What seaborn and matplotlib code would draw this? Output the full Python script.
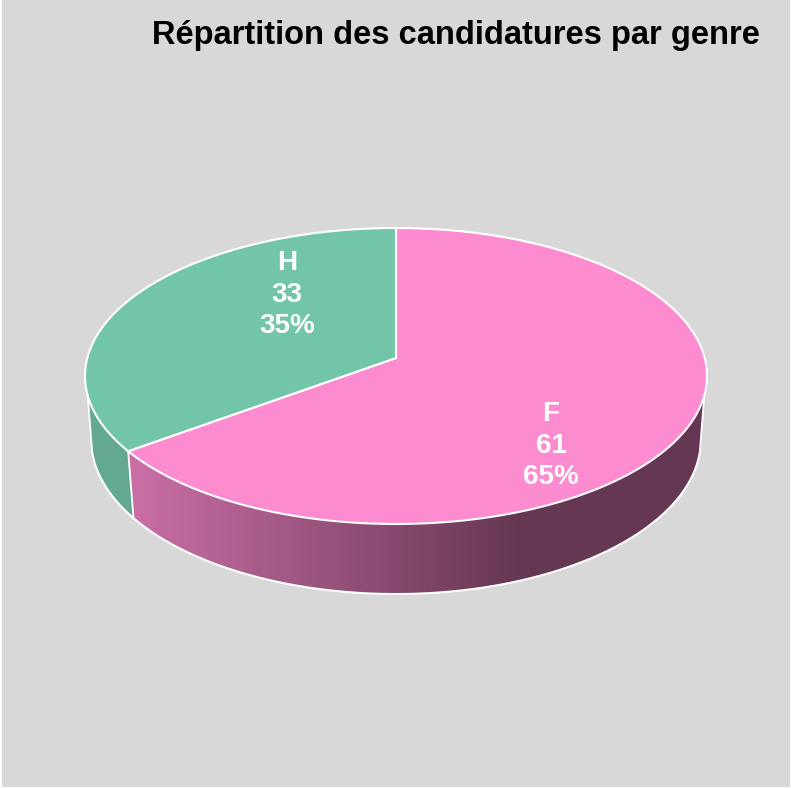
import numpy as np
import matplotlib
matplotlib.use("Agg")
import matplotlib.pyplot as plt
from matplotlib.patches import Polygon, Rectangle
import seaborn as sns

# Values
genres = ["F", "H"]
counts = [61, 33]
percents = ["65%", "35%"]
title = "Répartition des candidatures par genre"

sns.set_theme(style="white")
plt.rcParams["font.family"] = ["Liberation Sans", "DejaVu Sans"]
palette = sns.color_palette(["#FD8BD0", "#72C5A8"])

# Projection of the pie disc, in pixels
CX, TOP_Y, BOT_Y = 396, 358, 421
RX, RY, K = 308.7, 145.8, 0.1216
BOT_SCALE = 0.98
BOT_RY = 155.1


def project(theta_deg, scale=1.0, y0=TOP_Y, ry=RY):
    t = np.radians(theta_deg)
    u, v = np.sin(t), np.cos(t)
    w = 1 + K * v
    return np.column_stack([CX + scale * RX * u / w, y0 - scale * ry * v / w])


def top_edge(a, b):
    return project(np.linspace(a, b, 200))


def bottom_edge(a, b):
    return project(np.linspace(a, b, 200), BOT_SCALE, BOT_Y, BOT_RY)


def shade(x):
    return np.interp(x, [130, 520], [0.80, 0.40])


fig, ax = plt.subplots(figsize=(7.91, 7.88), dpi=100)
fig.patch.set_facecolor("white")
ax.set_position([0, 0, 1, 1])
ax.axis("off")
ax.add_patch(Rectangle((2, 0), 788, 787, facecolor="#D8D8D8", edgecolor="none", zorder=0))

split = 360 * counts[0] / sum(counts)
walls = [
    (0, 104.5, split, 101.5, split),
    (1, split, 255.5, split, 258.5),
]

for idx, a, b, c, d in walls:
    outline = np.vstack([top_edge(a, b), bottom_edge(c, d)[::-1]])
    patch = Polygon(outline, closed=True, facecolor="none", edgecolor="none", zorder=2)
    ax.add_patch(patch)
    xs = np.arange(60, 740)
    factor = shade(xs + 0.5)
    if idx == 1:
        factor = np.full_like(factor, 0.86)
    img = np.outer(factor, palette[idx]).reshape(1, len(xs), 3)
    im = ax.imshow(img, extent=(60, 740, 620, 340), aspect="auto", zorder=2, interpolation="bilinear")
    im.set_clip_path(patch)
    ax.plot(*bottom_edge(c, d).T, color="white", lw=1.5, zorder=3)

ax.set_xlim(0, 791)
ax.set_ylim(788, 0)

# silhouette and divider lines of the side wall
for a, c in [(104.5, 101.5), (255.5, 258.5), (split, split)]:
    p = project(a)
    q = bottom_edge(c, c)
    ax.plot([p[0, 0], q[0, 0]], [p[0, 1], q[0, 1]], color="white", lw=1.3, zorder=3)

# top face
start = 0
for i, n in enumerate(counts):
    end = start + 360 * n / sum(counts)
    pts = np.vstack([[[CX, TOP_Y]], top_edge(start, end)])
    ax.add_patch(Polygon(pts, closed=True, facecolor=palette[i], edgecolor="white", lw=1.5, zorder=4))
    start = end

label_pos = [(551, 414), (287, 263)]
for i, (x, y) in enumerate(label_pos):
    for j, s in enumerate([genres[i], str(counts[i]), percents[i]]):
        ax.text(x, y + j * 31.5, s, color="white", fontsize=20, fontweight="bold",
                ha="center", va="center", zorder=5)

ax.text(456, 35, title, color="black", fontsize=23.5, fontweight="bold", ha="center", va="center", zorder=5)

fig.savefig("out.png", dpi=100)
plt.close(fig)
